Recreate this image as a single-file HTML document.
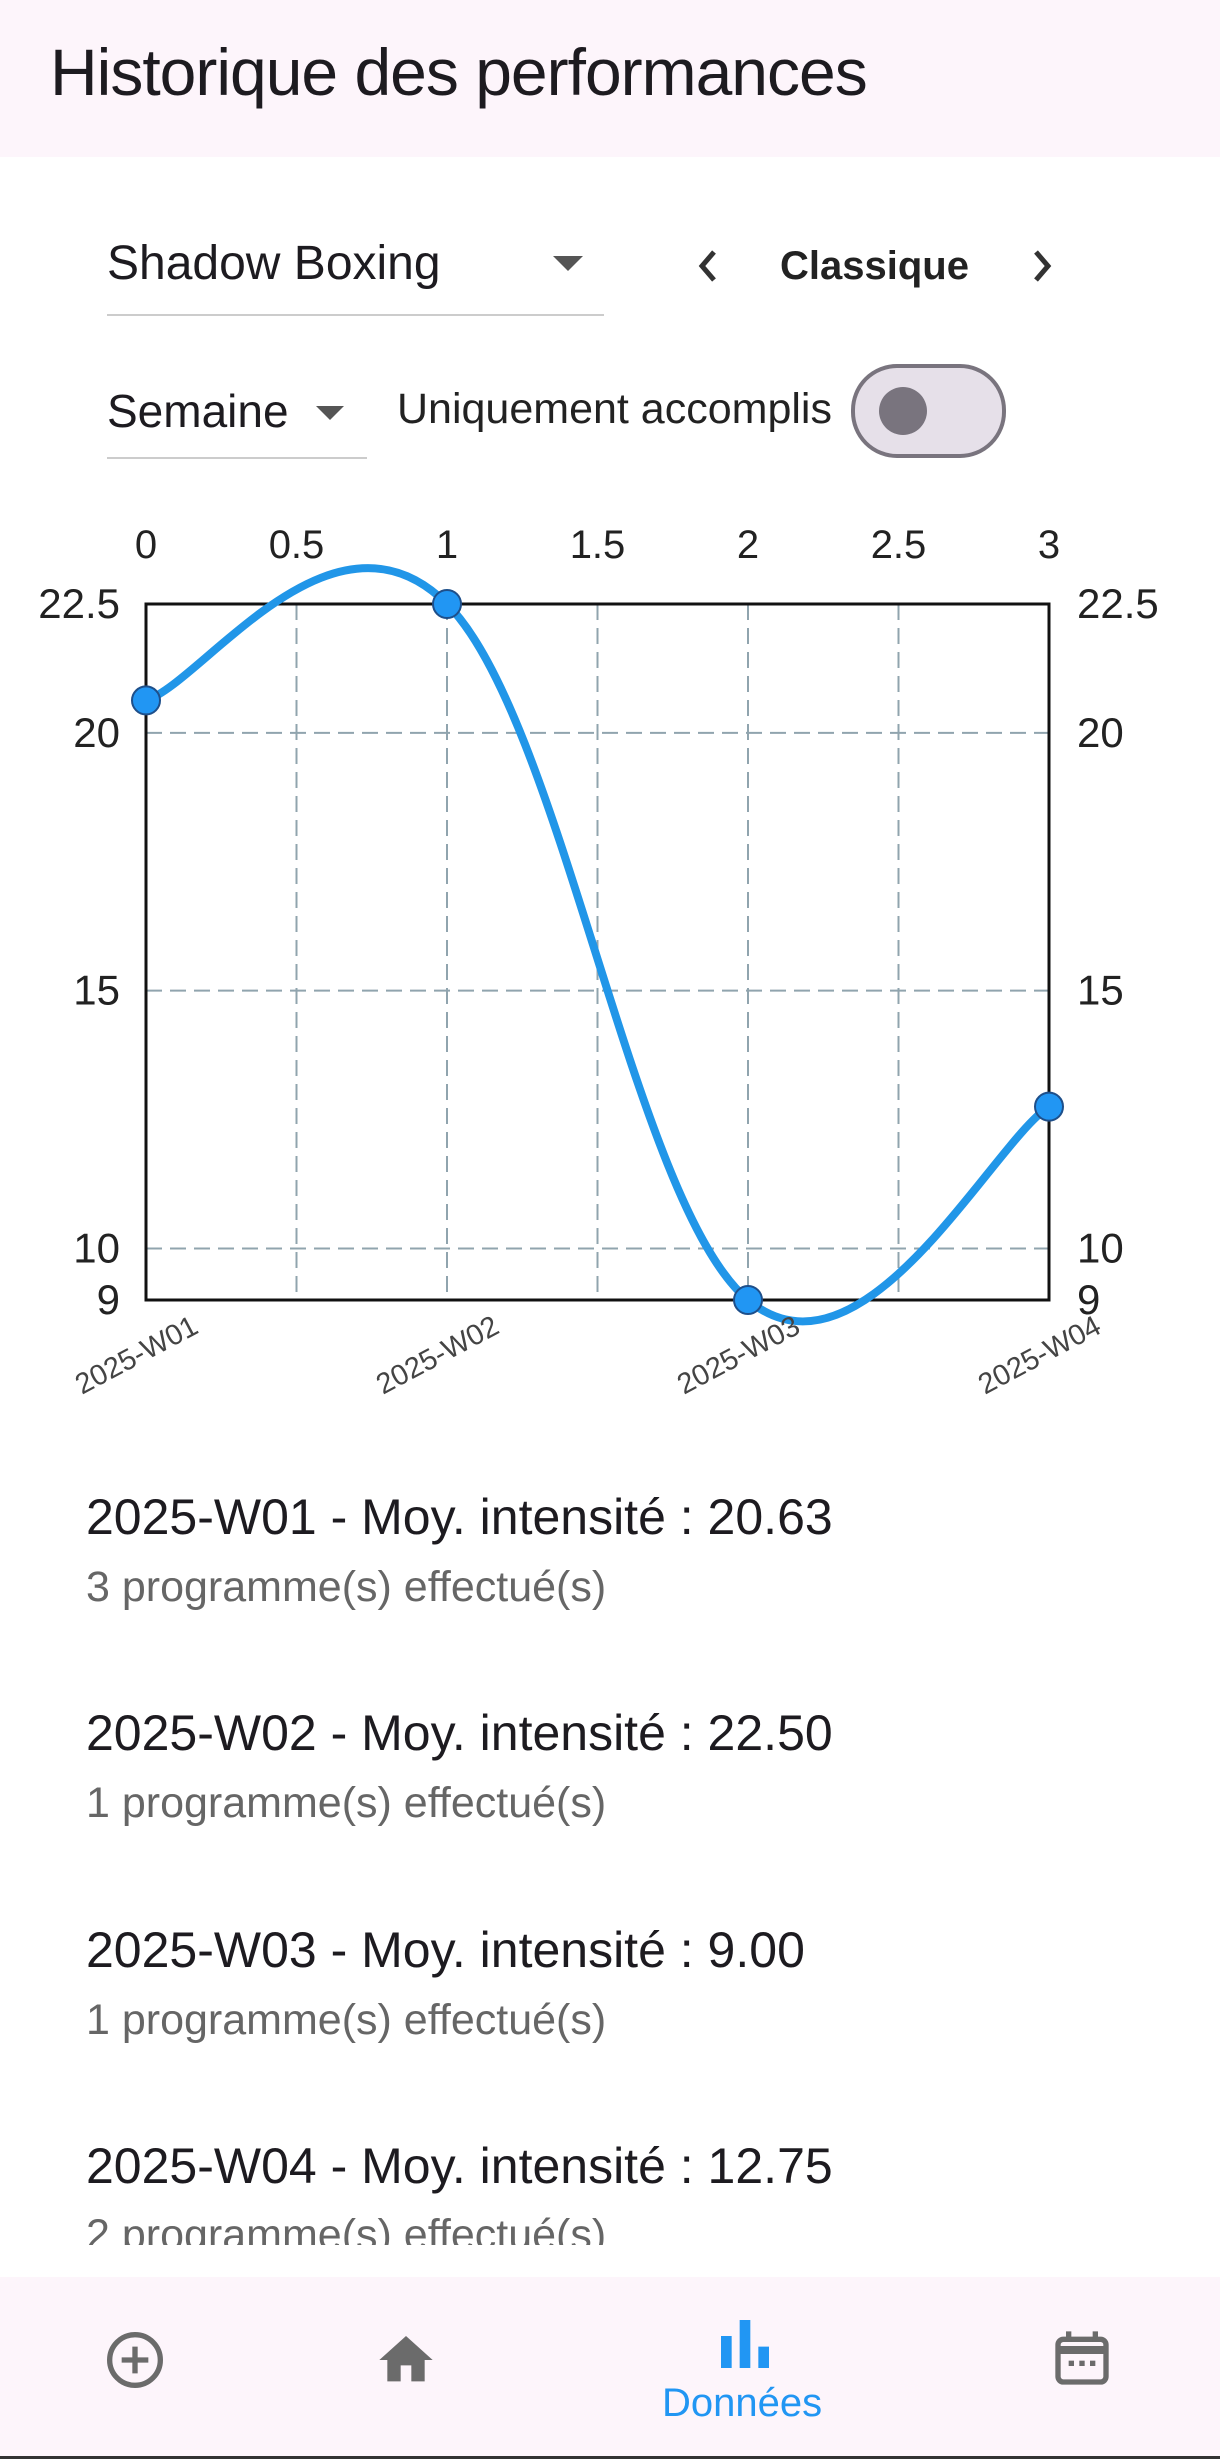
<!DOCTYPE html>
<html><head><meta charset="utf-8">
<style>
body{margin:0;width:1220px;height:2459px;background:#fff;font-family:"Liberation Sans",sans-serif;position:relative;overflow:hidden;color:#1d1b20}
.abs{position:absolute;white-space:nowrap}
</style></head><body>
<div class="abs" style="left:0;top:0;width:1220px;height:157px;background:#fdf5fb"></div>
<div class="abs" style="left:50px;top:34px;font-size:66px;letter-spacing:-1px;color:#1d1b20">Historique des performances</div>

<div class="abs" style="left:107px;top:236px;width:497px;height:78px;border-bottom:2px solid #ccc">
 <span class="abs" style="left:0;top:0;font-size:48px">Shadow Boxing</span>
 <span class="abs" style="left:446px;top:20px;width:0;height:0;border-left:15px solid transparent;border-right:15px solid transparent;border-top:15px solid #555"></span>
</div>
<svg class="abs" style="left:690px;top:246px" width="36" height="40" viewBox="0 0 36 40"><path d="M24 6 L12 20 L24 34" fill="none" stroke="#333" stroke-width="5"/></svg>
<div class="abs" style="left:780px;top:244px;font-size:40px;font-weight:bold;color:#222">Classique</div>
<svg class="abs" style="left:1024px;top:246px" width="36" height="40" viewBox="0 0 36 40"><path d="M12 6 L24 20 L12 34" fill="none" stroke="#333" stroke-width="5"/></svg>

<div class="abs" style="left:107px;top:380px;width:260px;height:77px;border-bottom:2px solid #ccc">
 <span class="abs" style="left:0;top:4px;font-size:46px">Semaine</span>
 <span class="abs" style="left:209px;top:26px;width:0;height:0;border-left:14px solid transparent;border-right:14px solid transparent;border-top:14px solid #555"></span>
</div>
<div class="abs" style="left:397px;top:385px;font-size:43px;color:#222">Uniquement accomplis</div>
<div class="abs" style="left:851px;top:364px;width:147px;height:86px;border:4px solid #79747e;border-radius:46px;background:#e6e0e9">
 <div class="abs" style="left:24px;top:19px;width:48px;height:48px;border-radius:50%;background:#79747e"></div>
</div>

<svg class="abs" style="left:0;top:500px" width="1220" height="920" id="chart"></svg>

<div>
 <div class="abs" style="left:86px;top:1488px;font-size:50px">2025-W01 - Moy. intensité : 20.63</div>
 <div class="abs" style="left:86px;top:1563px;font-size:43px;color:#666">3 programme(s) effectué(s)</div>
 <div class="abs" style="left:86px;top:1704px;font-size:50px">2025-W02 - Moy. intensité : 22.50</div>
 <div class="abs" style="left:86px;top:1779px;font-size:43px;color:#666">1 programme(s) effectué(s)</div>
 <div class="abs" style="left:86px;top:1921px;font-size:50px">2025-W03 - Moy. intensité : 9.00</div>
 <div class="abs" style="left:86px;top:1996px;font-size:43px;color:#666">1 programme(s) effectué(s)</div>
 <div class="abs" style="left:86px;top:2137px;font-size:50px">2025-W04 - Moy. intensité : 12.75</div>
 <div class="abs" style="left:86px;top:2211px;font-size:43px;color:#666;height:34px;overflow:hidden">2 programme(s) effectué(s)</div>
</div>

<div class="abs" style="left:0;top:2277px;width:1220px;height:179px;background:#fdf5fb;border-bottom:3px solid #333"></div>
<svg class="abs" style="left:103px;top:2328px" width="64" height="64" viewBox="0 0 24 24"><circle cx="12" cy="12" r="9.5" fill="none" stroke="#6b6b6b" stroke-width="2"/><path d="M12 7v10M7 12h10" stroke="#6b6b6b" stroke-width="2"/></svg>
<svg class="abs" style="left:374px;top:2328px" width="64" height="64" viewBox="0 0 24 24"><path d="M10 20v-6h4v6h5v-8h3L12 3 2 12h3v8z" fill="#6b6b6b"/></svg>
<svg class="abs" style="left:713px;top:2312px" width="64" height="64" viewBox="0 0 24 24"><path d="M3 9h4v12H3zM10 3h4v18h-4zM17 13h4v8h-4z" fill="#2196f3"/></svg>
<div class="abs" style="left:662px;top:2381px;font-size:40px;color:#2196f3">Données</div>
<svg class="abs" style="left:1050px;top:2326px" width="64" height="64" viewBox="0 0 24 24"><rect x="3" y="5" width="18" height="16" rx="2" fill="none" stroke="#6b6b6b" stroke-width="2"/><path d="M3 9h18" stroke="#6b6b6b" stroke-width="3"/><path d="M7 2v4M17 2v4" stroke="#6b6b6b" stroke-width="2"/><rect x="7" y="13" width="2" height="2" fill="#6b6b6b"/><rect x="11" y="13" width="2" height="2" fill="#6b6b6b"/><rect x="15" y="13" width="2" height="2" fill="#6b6b6b"/></svg>

<script>
const categories = ["2025-W01","2025-W02","2025-W03","2025-W04"];
const values = [20.63, 22.5, 9, 12.75];
const xTicks = [0,0.5,1,1.5,2,2.5,3];
const xTickLabels = ["0","0.5","1","1.5","2","2.5","3"];
const yTicks = [9,10,15,20,22.5];
const yTickLabels = ["9","10","15","20","22.5"];
const yGrid = [10,15,20];

const NS="http://www.w3.org/2000/svg";
const svg=document.getElementById('chart');
const L=146,R=1049,T=104,B=800,xmin=0,xmax=3,ymin=9,ymax=22.5;
const xs=v=>L+(v-xmin)/(xmax-xmin)*(R-L);
const ys=v=>B-(v-ymin)/(ymax-ymin)*(B-T);
function el(tag,attrs,parent){const e=document.createElementNS(NS,tag);for(const k in attrs)e.setAttribute(k,attrs[k]);(parent||svg).appendChild(e);return e;}

xTicks.forEach((t,i)=>{
  if(t>xmin&&t<xmax){const g=el('line',{x1:xs(t),x2:xs(t),y1:T,y2:B,stroke:'#90a4ae','stroke-width':2,'stroke-dasharray':'16 8'});
  
  }
  const tx=el('text',{x:xs(t),y:T-46,'text-anchor':'middle','font-size':40,fill:'#222','font-family':'Liberation Sans'});
  tx.textContent=xTickLabels[i];
  
  
});
yGrid.forEach(t=>{
  const g=el('line',{x1:L,x2:R,y1:ys(t),y2:ys(t),stroke:'#90a4ae','stroke-width':2,'stroke-dasharray':'16 8'});
  
  
});
yTicks.forEach((t,i)=>{
  const a=el('text',{x:L-26,y:ys(t)+14,'text-anchor':'end','font-size':42,fill:'#222','font-family':'Liberation Sans'});
  a.textContent=yTickLabels[i];
  
  
  const b=el('text',{x:R+28,y:ys(t)+14,'text-anchor':'start','font-size':42,fill:'#222','font-family':'Liberation Sans'});
  b.textContent=yTickLabels[i];
  
  
});
const border=el('rect',{x:L,y:T,width:R-L,height:B-T,fill:'none',stroke:'#111','stroke-width':3});



const pts=values.map((v,i)=>[xs(i),ys(v)]);
const s=0.19;
let d=`M${pts[0][0]},${pts[0][1]}`;
for(let i=1;i<pts.length;i++){
  const p0=pts[Math.max(i-2,0)],p1=pts[i-1],p2=pts[i],p3=pts[Math.min(i+1,pts.length-1)];
  const c1=[p1[0]+(p2[0]-p0[0])*s,p1[1]+(p2[1]-p0[1])*s];
  const c2=[p2[0]-(p3[0]-p1[0])*s,p2[1]-(p3[1]-p1[1])*s];
  d+=` C${c1[0]},${c1[1]} ${c2[0]},${c2[1]} ${p2[0]},${p2[1]}`;
}
const line=el('path',{d:d,fill:'none',stroke:'#2196e8','stroke-width':8,'stroke-linecap':'round'});


pts.forEach((p,i)=>{
  const c=el('circle',{cx:p[0],cy:p[1],r:14,fill:'#2196f3',stroke:'#1e4f8a','stroke-width':2});
  
  
  const t=el('text',{x:0,y:0,'text-anchor':'end','font-size':29,fill:'#444','font-family':'Liberation Sans',transform:`translate(${p[0]+54},${B+32}) rotate(-28)`});
  t.textContent=categories[i];
  
  
});
</script>
</body></html>
